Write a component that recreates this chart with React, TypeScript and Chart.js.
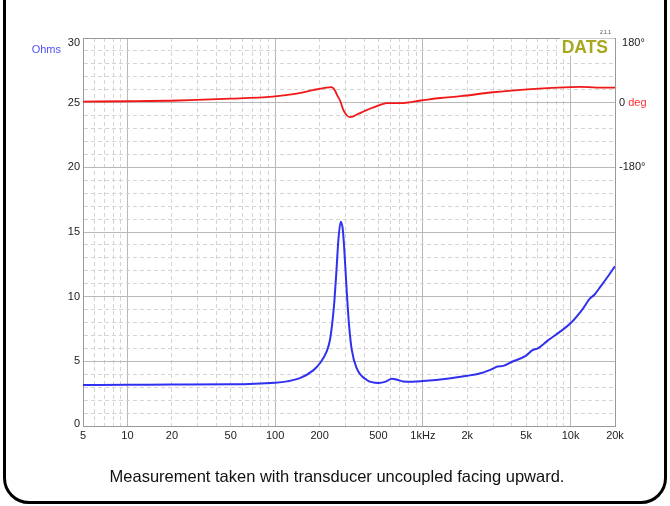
import React, { useEffect, useRef } from 'react';
import { Chart, registerables } from 'chart.js';

Chart.register(...registerables);

// ---- data ----
const impFreq = [5, 10, 20, 50, 100, 120, 147, 181, 201, 223, 235, 245, 252, 261, 268, 278, 287, 294, 305, 316, 330, 357, 417, 500, 560, 617, 680, 735, 850, 1000, 1500, 2000, 2500, 3000, 3200, 3500, 4000, 5000, 5500, 6000, 7000, 8500, 10000, 12000, 13500, 14500, 16000, 18000, 20000];
const impOhms = [3.17, 3.18, 3.2, 3.22, 3.35, 3.45, 3.7, 4.3, 4.85, 5.75, 6.65, 8.2, 9.7, 12.3, 14.4, 15.8, 15.2, 13.6, 10.5, 7.9, 5.9, 4.45, 3.56, 3.33, 3.43, 3.66, 3.55, 3.45, 3.43, 3.48, 3.68, 3.88, 4.1, 4.45, 4.6, 4.65, 4.95, 5.44, 5.85, 6.0, 6.6, 7.3, 7.94, 9.0, 9.85, 10.15, 10.8, 11.6, 12.35];

const phaseFreq = [5, 10, 22, 50, 96, 140, 181, 223, 241, 254, 265, 275, 290, 305, 320, 335, 357, 400, 437, 500, 570, 700, 965, 1313, 1800, 3000, 5100, 8100, 11600, 15000, 20000];
const phaseDeg = [3, 4, 6, 11, 17, 25, 35, 42, 43, 34, 18, 6, -21, -35, -40, -39, -33, -24, -17, -8, -1, -1, 6, 13, 18, 29, 37, 42, 44, 42, 42];

const xTickValues = [5, 6, 7, 8, 9, 10, 20, 30, 40, 50, 60, 70, 80, 90, 100, 200, 300, 400, 500, 600, 700, 800, 900, 1000, 2000, 3000, 4000, 5000, 6000, 7000, 8000, 9000, 10000, 20000];
const xMajor = [10, 100, 1000, 10000];
const xLabels: Record<number, string> = { 5: '5', 10: '10', 20: '20', 50: '50', 100: '100', 200: '200', 500: '500', 1000: '1kHz', 2000: '2k', 5000: '5k', 10000: '10k', 20000: '20k' };

const ohmTicks = [0, 1, 2, 3, 4, 5, 6, 7, 8, 9, 10, 11, 12, 13, 14, 15, 16, 17, 18, 19, 20, 21, 22, 23, 24, 25, 26, 27, 28, 29, 30];
const ohmLabelTicks = [0, 5, 10, 15, 20, 25, 30];
const degTicks = [-180, 0, 180];
const degLabels = ['-180°', '0', ' 180°'];

const FONT = 'Liberation Sans, Arial, Helvetica, sans-serif';

const extras = {
  id: 'extras',
  beforeDatasetsDraw(chart: any) {
    const { ctx, chartArea } = chart;
    ctx.save();
    ctx.fillStyle = '#ffffff';
    ctx.fillRect(chartArea.right - 55, chartArea.top + 0.5, 54.5, 17);
    ctx.font = `bold 17.5px ${FONT}`;
    ctx.fillStyle = '#a8a820';
    ctx.textAlign = 'right';
    ctx.textBaseline = 'middle';
    ctx.fillText('DATS', chartArea.right - 7, chartArea.top + 10);
    ctx.restore();
  },
  afterDraw(chart: any) {
    const { ctx, chartArea, scales } = chart;
    const clampY = (py: number) => Math.min(Math.max(py, chartArea.top + 5), chartArea.bottom - 2.5);
    ctx.save();
    ctx.textBaseline = 'middle';
    ctx.font = `11px ${FONT}`;
    // left tick labels
    ctx.fillStyle = '#222';
    ctx.textAlign = 'right';
    ohmLabelTicks.forEach((v) => {
      ctx.fillText(String(v), chartArea.left - 3, clampY(scales.y.getPixelForValue(v)));
    });
    // right tick labels
    ctx.textAlign = 'left';
    degTicks.forEach((v, i) => {
      ctx.fillStyle = '#222';
      const py = clampY(scales.y2.getPixelForValue(v));
      ctx.fillText(degLabels[i], chartArea.right + 4, py);
      if (v === 0) {
        const x0 = chartArea.right + 4 + ctx.measureText('0 ').width;
        ctx.fillStyle = '#ff3030';
        ctx.fillText('deg', x0, py);
      }
    });
    ctx.fillStyle = '#5050ff';
    ctx.textAlign = 'right';
    ctx.fillText('Ohms', chartArea.left - 22, chartArea.top + 11.5);
    ctx.font = `5px ${FONT}`;
    ctx.fillStyle = '#444';
    ctx.textAlign = 'right';
    ctx.fillText('2.1.1', chartArea.right - 4, chartArea.top - 5);
    ctx.restore();
  },
};

export default function App() {
  const ref = useRef<HTMLCanvasElement | null>(null);

  useEffect(() => {
    if (!ref.current) return;
    const chart = new Chart(ref.current, {
      type: 'line',
      data: {
        datasets: [
          {
            label: 'Impedance',
            data: impFreq.map((f, i) => ({ x: f, y: impOhms[i] })),
            borderColor: '#3030f0',
            borderWidth: 2,
            pointRadius: 0,
            cubicInterpolationMode: 'monotone',
            yAxisID: 'y',
          },
          {
            label: 'Phase',
            data: phaseFreq.map((f, i) => ({ x: f, y: phaseDeg[i] })),
            borderColor: '#f01818',
            borderWidth: 1.8,
            pointRadius: 0,
            cubicInterpolationMode: 'monotone',
            yAxisID: 'y2',
          },
        ],
      },
      options: {
        animation: false,
        responsive: false,
        events: [],
        layout: { padding: { top: 38, left: 0, right: 0, bottom: 0 } },
        plugins: { legend: { display: false }, tooltip: { enabled: false } },
        scales: {
          x: {
            type: 'logarithmic',
            min: 5,
            max: 20000,
            afterBuildTicks: (s: any) => {
              s.ticks = xTickValues.map((v) => ({ value: v }));
            },
            afterFit: (s: any) => {
              s.height = 80;
            },
            ticks: {
              autoSkip: false,
              maxRotation: 0,
              minRotation: 0,
              padding: 3,
              color: '#222',
              font: { family: FONT, size: 11 },
              callback: (v: any) => xLabels[Number(v)] ?? '',
            },
            grid: {
              drawTicks: false,
              lineWidth: 1,
              color: (c: any) => (c.tick && xMajor.includes(c.tick.value) ? '#b8b8b8' : '#d4d4d4'),
            },
            border: {
              display: true,
              color: '#9a9a9a',
              width: 1,
              dash: (c: any) => (c.tick && !xMajor.includes(c.tick.value) && c.tick.value !== 5 && c.tick.value !== 20000 ? [4, 3] : []),
            },
          },
          y: {
            type: 'linear',
            position: 'left',
            min: 0,
            max: 30,
            afterBuildTicks: (s: any) => {
              s.ticks = ohmTicks.map((v) => ({ value: v }));
            },
            afterFit: (s: any) => {
              s.width = 83;
            },
            ticks: { display: false },
            grid: {
              drawTicks: false,
              lineWidth: 1,
              color: (c: any) => (c.tick && c.tick.value % 5 === 0 ? (c.tick.value === 30 ? '#9a9a9a' : '#b8b8b8') : '#d4d4d4'),
            },
            border: {
              display: true,
              color: '#9a9a9a',
              width: 1,
              dash: (c: any) => (c.tick && c.tick.value % 5 !== 0 ? [4, 3] : []),
            },
          },
          y2: {
            type: 'linear',
            position: 'right',
            min: -900,
            max: 180,
            afterBuildTicks: (s: any) => {
              s.ticks = degTicks.map((v) => ({ value: v }));
            },
            afterFit: (s: any) => {
              s.width = 55;
            },
            ticks: { display: false },
            grid: { display: false, drawTicks: false },
            border: { display: true, color: '#9a9a9a', width: 1 },
          },
        },
      } as any,
      plugins: [extras],
    });
    return () => chart.destroy();
  }, []);

  return (
    <div style={{ position: 'fixed', left: 0, top: 0, width: 670, height: 506, background: '#fff', overflow: 'hidden' }}>
      <div
        style={{
          position: 'absolute',
          left: 3,
          top: -40,
          width: 664,
          height: 544,
          boxSizing: 'border-box',
          border: '3px solid #000',
          borderRadius: 26,
        }}
      />
      <canvas ref={ref} width={670} height={506} style={{ position: 'absolute', left: 0, top: 0, width: 670, height: 506 }} />
      <div
        style={{
          position: 'absolute',
          left: 0,
          width: 674,
          top: 466,
          textAlign: 'center',
          fontFamily: FONT,
          fontSize: 16.5,
          color: '#111',
          lineHeight: '20px',
        }}
      >
        Measurement taken with transducer uncoupled facing upward.
      </div>
    </div>
  );
}
